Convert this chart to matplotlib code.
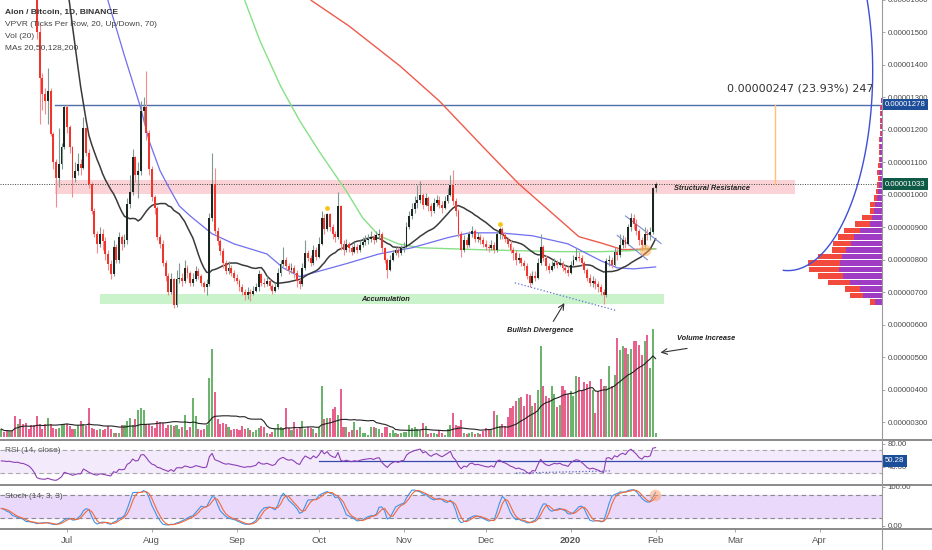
import numpy as np
import pandas as pd
import matplotlib
matplotlib.use("Agg")
import matplotlib.pyplot as plt
from matplotlib.patches import Rectangle
from matplotlib.lines import Line2D

plt.rcParams["font.family"] = ["Liberation Sans", "DejaVu Sans"]

START = pd.Timestamp("2019-06-07")

# daily candles (satoshi), 2019-06-07 .. 2020-02-01, open = previous close
first_open = 2440
close = [2450, 2440, 2420, 2430, 2400, 2380, 2390, 2350, 2340, 2300,
         2250, 2150, 1950, 1500, 1361, 1310, 1290, 1320, 1187, 1100,
         1053, 1094, 1146, 1269, 1210, 1146, 1053, 1074, 1094, 1084,
         1207, 1130, 1033, 951, 880, 850, 880, 858, 818, 787,
         756, 840, 800, 869, 850, 860, 971, 1010, 1115, 1060,
         1074, 1258, 1269, 1190, 1080, 992, 960, 870, 850, 790,
         750, 700, 740, 660, 740, 745, 735, 776, 760, 730,
         740, 765, 750, 730, 715, 725, 930, 1033, 889, 858,
         828, 790, 766, 775, 760, 745, 735, 715, 700, 690,
         700, 695, 705, 715, 756, 730, 725, 735, 720, 705,
         715, 760, 787, 800, 780, 770, 776, 760, 735, 725,
         775, 820, 805, 790, 830, 810, 850, 930, 895, 940,
         900, 880, 870, 965, 850, 830, 850, 835, 825, 840,
         830, 845, 855, 860, 865, 870, 860, 875, 880, 835,
         800, 770, 800, 820, 830, 820, 835, 840, 900, 935,
         955, 975, 985, 1000, 970, 990, 965, 950, 975, 985,
         970, 960, 980, 1000, 1030, 980, 950, 880, 830, 860,
         845, 880, 890, 865, 870, 860, 850, 840, 835, 845,
         830, 880, 895, 875, 865, 850, 830, 820, 800, 805,
         790, 780, 750, 730, 750, 745, 790, 840, 805, 780,
         770, 780, 790, 785, 790, 775, 770, 760, 785, 800,
         810, 805, 790, 770, 745, 730, 735, 725, 715, 700,
         690, 795, 800, 785, 825, 815, 845, 860, 850, 900,
         930, 910, 890, 860, 845, 880, 875, 885, 1020, 1033]
high = [2500, 2470, 2460, 2470, 2440, 2410, 2420, 2400, 2380, 2360,
        2320, 2270, 2160, 1960, 1530, 1375, 1330, 1392, 1330, 1195,
        1110, 1207, 1160, 1278, 1278, 1215, 1150, 1100, 1130, 1110,
        1240, 1210, 1140, 1040, 960, 890, 900, 895, 870, 830,
        800, 860, 850, 885, 875, 880, 990, 1060, 1140, 1120,
        1100, 1290, 1300, 1382, 1200, 1090, 1000, 965, 880, 860,
        800, 760, 760, 745, 770, 790, 760, 800, 785, 765,
        760, 780, 775, 755, 735, 740, 945, 1130, 1084, 900,
        865, 835, 800, 795, 785, 770, 755, 740, 725, 710,
        715, 710, 720, 730, 770, 760, 745, 750, 740, 725,
        730, 776, 800, 838, 810, 790, 790, 785, 770, 745,
        790, 860, 830, 815, 845, 840, 870, 950, 940, 945,
        945, 910, 890, 1010, 970, 860, 865, 855, 845, 855,
        850, 860, 870, 875, 880, 890, 880, 890, 895, 885,
        840, 805, 815, 830, 840, 838, 845, 855, 915, 950,
        975, 995, 1030, 1043, 1005, 1005, 995, 975, 990, 1000,
        995, 980, 995, 1020, 1060, 1075, 990, 955, 890, 875,
        870, 890, 905, 895, 885, 880, 870, 860, 850, 860,
        855, 890, 900, 900, 885, 870, 860, 840, 830, 820,
        810, 800, 790, 760, 765, 765, 805, 880, 845, 815,
        790, 795, 805, 800, 805, 795, 785, 780, 795, 815,
        835, 825, 815, 795, 775, 755, 750, 745, 735, 725,
        710, 805, 815, 810, 840, 835, 880, 875, 870, 910,
        945, 940, 925, 895, 870, 900, 895, 900, 1025, 1040]
low = [2410, 2400, 2390, 2400, 2380, 2350, 2360, 2330, 2320, 2280,
       2220, 2120, 1920, 1480, 1218, 1260, 1250, 1218, 1180, 1080,
       961, 1023, 1080, 1140, 1190, 1130, 992, 1040, 1060, 1060,
       1080, 1120, 1020, 940, 870, 820, 840, 830, 800, 770,
       740, 750, 790, 790, 830, 840, 850, 960, 1000, 1040,
       990, 1060, 1220, 1170, 1060, 980, 940, 860, 835, 780,
       735, 690, 695, 650, 655, 730, 720, 730, 745, 720,
       720, 735, 740, 720, 700, 690, 720, 920, 880, 845,
       815, 776, 756, 755, 750, 735, 725, 705, 690, 675,
       680, 674, 690, 700, 705, 720, 715, 718, 710, 694,
       700, 710, 750, 780, 770, 755, 760, 745, 715, 710,
       720, 770, 795, 780, 785, 800, 805, 845, 880, 890,
       890, 865, 855, 865, 830, 815, 825, 825, 815, 820,
       820, 825, 840, 845, 850, 855, 850, 855, 865, 825,
       790, 745, 765, 795, 815, 810, 815, 825, 835, 895,
       925, 945, 960, 975, 955, 965, 950, 935, 945, 965,
       960, 945, 955, 975, 995, 970, 935, 870, 810, 825,
       835, 840, 870, 855, 855, 850, 840, 830, 825, 830,
       820, 825, 865, 865, 855, 840, 820, 800, 785, 790,
       780, 770, 740, 715, 725, 735, 740, 785, 795, 770,
       760, 765, 775, 775, 780, 765, 760, 750, 755, 780,
       795, 795, 780, 760, 735, 720, 715, 710, 700, 690,
       664, 685, 780, 775, 780, 800, 810, 835, 835, 845,
       890, 895, 875, 845, 830, 840, 860, 860, 880, 1010]
volume = [8, 5, 6, 6, 6, 21, 13, 18, 13, 14,
          8, 12, 12, 21, 13, 8, 13, 19, 13, 9,
          8, 9, 12, 13, 13, 11, 8, 8, 12, 16,
          13, 11, 29, 9, 8, 7, 8, 7, 8, 11,
          8, 4, 4, 4, 12, 12, 16, 19, 12, 18,
          27, 29, 27, 13, 13, 11, 9, 16, 15, 14,
          9, 12, 12, 11, 12, 8, 10, 22, 7, 10,
          39, 21, 8, 7, 8, 12, 59, 88, 45, 18,
          13, 14, 13, 10, 7, 8, 8, 7, 11, 8,
          9, 7, 5, 7, 9, 11, 10, 4, 3, 5,
          8, 13, 10, 9, 29, 9, 7, 15, 8, 10,
          16, 8, 10, 9, 8, 4, 10, 51, 18, 19,
          19, 28, 30, 22, 48, 10, 10, 5, 7, 15,
          7, 10, 4, 4, 2, 10, 10, 9, 8, 4,
          10, 10, 4, 7, 4, 3, 4, 5, 5, 12,
          9, 10, 8, 7, 14, 11, 3, 4, 4, 3,
          7, 4, 2, 8, 12, 24, 12, 11, 17, 4,
          3, 4, 5, 3, 4, 3, 6, 9, 7, 7,
          26, 22, 11, 13, 11, 20, 29, 31, 36, 39,
          40, 31, 43, 42, 31, 34, 47, 91, 51, 41,
          39, 51, 43, 30, 32, 51, 47, 43, 46, 41,
          61, 60, 47, 55, 53, 56, 47, 24, 46, 58,
          51, 51, 71, 51, 62, 99, 87, 91, 89, 83,
          88, 96, 96, 92, 82, 96, 102, 69, 108, 4]

# moving averages (day index, satoshi)
ma50_day = [36, 39, 45, 50.7, 54, 58, 60.5, 65, 69, 77, 85, 97, 103, 109,
            114, 126, 138, 150, 163, 171, 182, 194, 207, 219, 225, 231, 239]
ma50_val = [1700, 1597, 1428, 1274, 1166, 1074, 1034, 966, 935, 880, 849, 818,
            775, 748, 760, 788, 818, 837, 868, 883, 883, 874, 849, 797, 775,
            772, 778]
ma128_day = [87, 89, 94.5, 102, 109, 116, 126, 132, 138, 145, 153, 164, 175,
             189, 204, 219, 230, 239]
ma128_val = [1660, 1597, 1474, 1335, 1228, 1135, 1012, 929, 874, 849, 837, 834,
             831, 828, 825, 825, 828, 834]
ma200_day = [108, 113.5, 127, 145.6, 160, 177.4, 189, 199, 211, 219, 227, 239]
ma200_val = [1640, 1597, 1520, 1397, 1289, 1135, 1034, 960, 871, 852, 831, 834]

# volume profile rows (price, up volume, down volume)
vp_price = list(range(670, 1300, 20))
vp_up = [7, 19, 22, 32, 39, 43, 42, 40, 36, 31, 28, 22, 12, 10, 8, 7,
         5, 4, 3, 2, 3, 2, 2, 2, 2, 2, 1, 1, 1, 1, 1, 1]
vp_down = [5, 13, 15, 22, 25, 30, 32, 24, 14, 18, 16, 16, 15, 10, 4, 5,
           3, 2, 2, 2, 2, 2, 1, 1, 1, 1, 1, 1, 1, 1, 1, 0]

month_dates = ["2019-07-01", "2019-08-01", "2019-09-01", "2019-10-01",
               "2019-11-01", "2019-12-01", "2020-01-01", "2020-02-01",
               "2020-03-01", "2020-04-01"]
month_labels = ["Jul", "Aug", "Sep", "Oct", "Nov", "Dec", "2020", "Feb",
                "Mar", "Apr"]

resistance = (1003, 1045)
accumulation = (664, 694)
last_price = 1033
target_price = 1278
rsi_level = 50.28

# ---------------------------------------------------------------- data prep
c = np.array(close, float)
h = np.array(high, float)
l = np.array(low, float)
o = np.r_[first_open, c[:-1]]
h = np.maximum(h, np.maximum(o, c))
l = np.minimum(l, np.minimum(o, c))
x = np.arange(len(c))
up = c >= o
vol = np.array(volume, float)

ma20 = pd.Series(c).rolling(20).mean()
vol_ma = pd.Series(vol).rolling(20, min_periods=1).mean()

# RSI (Wilder), seeded as a balanced market before the first bar
delta = c - o
avg_g, avg_l = 60.0, 60.0
rsi = []
for dv in delta:
    avg_g = (avg_g * 13 + max(dv, 0)) / 14
    avg_l = (avg_l * 13 + max(-dv, 0)) / 14
    rsi.append(100 - 100 / (1 + avg_g / avg_l))
rsi = np.array(rsi)

ll = pd.Series(l).rolling(14, min_periods=1).min()
hh = pd.Series(h).rolling(14, min_periods=1).max()
raw_k = 100 * (pd.Series(c) - ll) / (hh - ll)
k_line = raw_k.rolling(3, min_periods=1).mean()
d_line = k_line.rolling(3, min_periods=1).mean()


def day(s):
    return (pd.Timestamp(s) - START).days


XMIN, XMAX = -0.475, 321.7

# ---------------------------------------------------------------- figure
W, H = 932, 550
fig = plt.figure(figsize=(W / 100, H / 100), dpi=100, facecolor="white")


def rect(top, bottom):
    return [0, 1 - bottom / H, 882 / W, (bottom - top) / H]


ax_v = fig.add_axes(rect(0, 440))
ax_p = fig.add_axes(rect(0, 440))
ax_r = fig.add_axes(rect(440, 485))
ax_s = fig.add_axes(rect(485, 529))
ax_p.patch.set_visible(False)

for ax in (ax_v, ax_p, ax_r, ax_s):
    ax.set_xlim(XMIN, XMAX)
    for sp in ax.spines.values():
        sp.set_visible(False)

TXT = dict(ha="center", va="center", fontsize=5.3, fontweight="bold",
           fontstyle="italic", color="#222222", zorder=7)

# volume
ax_v.bar(x, vol, width=0.75, color=np.where(up, "#6cb36e", "#e8608c"), zorder=1)
ax_v.plot(x, vol_ma, color="#222222", lw=0.8, zorder=2)
ax_v.set_ylim(-3, 437)
ax_v.set_xticks([])
ax_v.set_yticks([])
ax_v.annotate("", xy=(239.8, 84), xytext=(251.5, 89),
              arrowprops=dict(arrowstyle="->", color="#333333", lw=0.8))
ax_v.text(257.4, 98, "Volume Increase", **TXT)

# price pane
ax_p.set_ylim(245, 1600)
ax_p.add_patch(Rectangle((19.6, resistance[0]), 290 - 19.6,
                         resistance[1] - resistance[0], fc="#fbd3d6", ec="none", zorder=0.5))
ax_p.add_patch(Rectangle((36, accumulation[0]), 242 - 36,
                         accumulation[1] - accumulation[0], fc="#cbf3cb", ec="none", zorder=0.5))
ax_p.axhline(last_price, color="#444444", lw=0.7, ls=(0, (1, 1.5)), zorder=1)
ax_p.plot([19.6, XMAX], [target_price, target_price], color="#4f6fa8", lw=1, zorder=1)
ax_p.plot([282.6, 282.6], [last_price, target_price], color="#ffc078", lw=1, zorder=1)
ax_p.text(292, 1326, "0.00000247 (23.93%) 247", ha="center", va="center",
          fontsize=8, color="#333333", family="DejaVu Sans")

# volume profile
vu = np.array(vp_up, float) * 0.3652
vd = np.array(vp_down, float) * 0.3652
ax_p.barh(vp_price, vu, left=XMAX - vu, height=16, color="#a03cc4", zorder=2)
ax_p.barh(vp_price, vd, left=XMAX - vu - vd, height=16, color="#f24a3c", zorder=2)

# moving averages
ax_p.plot(ma200_day, ma200_val, color="#ef5a4c", lw=1, zorder=3)
ax_p.plot(ma128_day, ma128_val, color="#86e086", lw=1, zorder=3)
ax_p.plot(ma50_day, ma50_val, color="#6f6ff0", lw=0.9, zorder=3)
ax_p.plot(x, ma20, color="#3a3a3a", lw=1.1, zorder=3)

# candles
ax_p.vlines(x, l, h, colors=np.where(up, "#7f9a90", "#f28b8b"), lw=0.8, zorder=4)
body_lo = np.minimum(o, c)
body_h = np.maximum(np.abs(c - o), 3)
ax_p.bar(x, body_h, bottom=body_lo, width=0.7,
         color=np.where(up, "#1e2622", "#f0352c"), zorder=5)

# markers and drawings
ax_p.scatter([119, 182], [958, 910], s=12, color="#f5c518", zorder=6, lw=0)
ax_p.scatter([235.1], [830], s=70, color="#ffa040", alpha=0.5, zorder=6, lw=0)
ax_p.plot([187.6, 224.9], [729, 643], color="#5a6fd6", lw=0.9, ls=":", zorder=3)
ax_p.plot([228, 241], [935, 850], color="#7a8ad8", lw=0.8, zorder=3)
ax_p.plot([225, 236], [875, 800], color="#7a8ad8", lw=0.8, zorder=3)
t = np.radians(np.linspace(-93, 95, 120))
ax_p.plot(287.3 + 31.0 * np.cos(t), 1381.6 + 615 * np.sin(t),
          color="#3d4fd8", lw=1, zorder=3)

ax_p.annotate("", xy=(206.2, 674), xytext=(201.1, 603),
              arrowprops=dict(arrowstyle="->", color="#333333", lw=0.8))
ax_p.text(259.6, 1021, "Structural Resistance", **TXT)
ax_p.text(140.5, 678, "Accumulation", **TXT)
ax_p.text(196.8, 582, "Bullish Divergence", **TXT)

ax_p.yaxis.tick_right()
ax_p.set_yticks(np.arange(300, 1601, 100))
ax_p.set_yticklabels([f"{v * 1e-8:.8f}" for v in np.arange(300, 1601, 100)])
ax_p.set_xticks([])


def price_tag(ax, y, text, color):
    ax.annotate(text, xy=(1, y), xycoords=("axes fraction", "data"),
                xytext=(2.2, 0), textcoords="offset points", ha="left", va="center",
                fontsize=5.6, color="white", zorder=20, annotation_clip=False,
                bbox=dict(boxstyle="square,pad=0.3", fc=color, ec="none"))


price_tag(ax_p, target_price, "0.00001278", "#1d4e9a")
price_tag(ax_p, last_price, "0.00001033", "#0e5a44")

# RSI pane
ax_r.set_ylim(8.3, 86.7)
ax_r.axhspan(30, 70, color="#f3ebfc", zorder=0)
for lv in (30, 70):
    ax_r.axhline(lv, color="#a8a8a8", lw=0.8, ls=(0, (4, 3)), zorder=1)
ax_r.plot(x, rsi, color="#8e3fb5", lw=0.8, zorder=3)
ax_r.plot([116, XMAX], [rsi_level, rsi_level], color="#3949ab", lw=0.9, zorder=2)
ax_r.plot([188, 223], [29, 33], color="#5c6bc0", lw=0.9, ls=":", zorder=2)
ax_r.yaxis.tick_right()
ax_r.set_yticks([40, 80])
ax_r.set_yticklabels(["40.00", "80.00"])
ax_r.set_xticks([])
price_tag(ax_r, rsi_level, "50.28", "#1d4e9a")

# Stoch pane
ax_s.set_ylim(-8.6, 105)
ax_s.axhspan(20, 80, color="#ead9fa", zorder=0)
for lv in (20, 80):
    ax_s.axhline(lv, color="#8a8a8a", lw=0.8, ls=(0, (4, 3)), zorder=1)
ax_s.plot(x, k_line, color="#3f94ea", lw=0.8, zorder=3)
ax_s.plot(x, d_line, color="#f4683a", lw=0.8, zorder=3)
ax_s.scatter([238.7], [80], s=70, color="#ff9d5c", alpha=0.5, zorder=4, lw=0)
ax_s.yaxis.tick_right()
ax_s.set_yticks([0, 100])
ax_s.set_yticklabels(["0.00", "100.00"])
ax_s.set_xticks([day(d) for d in month_dates])
ax_s.set_xticklabels(month_labels)
for lab in ax_s.get_xticklabels():
    if lab.get_text() == "2020":
        lab.set_fontweight("bold")

for ax in (ax_p, ax_r, ax_s):
    ax.tick_params(axis="y", length=2.2, width=0.6, color="#999999", pad=2,
                   labelsize=5.6, labelcolor="#4a4a4a")
ax_s.tick_params(axis="x", length=2.2, width=0.6, color="#999999", pad=2.5,
                 labelsize=6.8, labelcolor="#555555")

# pane separators and price-axis line
for py in (440, 485, 529):
    fig.add_artist(Line2D([0, 1], [1 - py / H] * 2, color="#777777", lw=1.2))
fig.add_artist(Line2D([882 / W] * 2, [0, 1], color="#9a9a9a", lw=0.8))

# legend texts
fig.text(5 / W, 1 - 12 / H, "Aion / Bitcoin, 1D, BINANCE", fontsize=6,
         fontweight="bold", color="#333333", va="center")
for k, s in enumerate(["VPVR (Ticks Per Row, 20, Up/Down, 70)", "Vol (20)",
                       "MAs 20,50,128,200"]):
    fig.text(5 / W, 1 - (24 + 12 * k) / H, s, fontsize=6, color="#444444",
             va="center")
fig.text(5 / W, 1 - 450 / H, "RSI (14, close)", fontsize=6, color="#555555",
         va="center")
fig.text(5 / W, 1 - 497 / H, "Stoch (14, 3, 3)", fontsize=6, color="#555555",
         va="center")

fig.savefig("out.png", dpi=100, facecolor="white")
